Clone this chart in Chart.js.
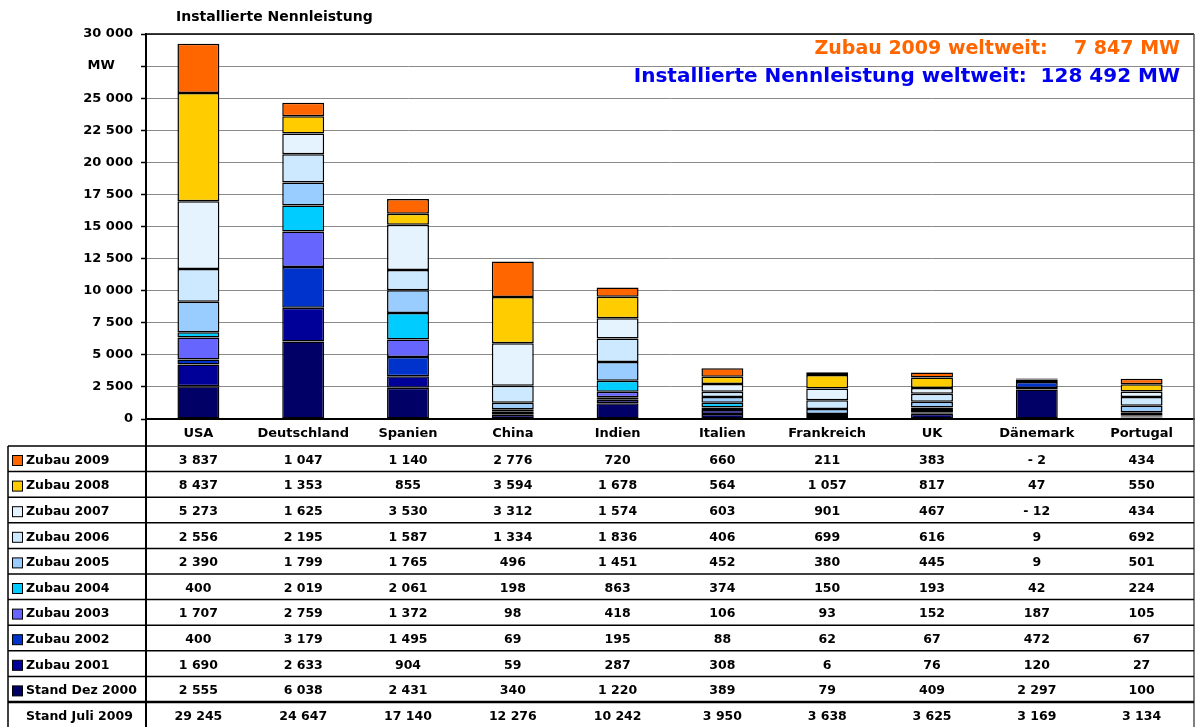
<!DOCTYPE html>
<html>
<head>
<meta charset="utf-8">
<script src="https://cdn.jsdelivr.net/npm/chart.js@4.4.1/dist/chart.umd.min.js"></script>
<style>
  html, body { margin: 0; padding: 0; background: #fff; }
  #wrap { width: 1196px; height: 727px; position: relative; }
</style>
</head>
<body>
<div id="wrap"><canvas id="c" width="1196" height="727"></canvas></div>
<script>
const categories = ['USA','Deutschland','Spanien','China','Indien','Italien','Frankreich','UK','Dänemark','Portugal'];
const zubau2009 = [3837,1047,1140,2776,720,660,211,383,-2,434];
const zubau2008 = [8437,1353,855,3594,1678,564,1057,817,47,550];
const zubau2007 = [5273,1625,3530,3312,1574,603,901,467,-12,434];
const zubau2006 = [2556,2195,1587,1334,1836,406,699,616,9,692];
const zubau2005 = [2390,1799,1765,496,1451,452,380,445,9,501];
const zubau2004 = [400,2019,2061,198,863,374,150,193,42,224];
const zubau2003 = [1707,2759,1372,98,418,106,93,152,187,105];
const zubau2002 = [400,3179,1495,69,195,88,62,67,472,67];
const zubau2001 = [1690,2633,904,59,287,308,6,76,120,27];
const standDez2000 = [2555,6038,2431,340,1220,389,79,409,2297,100];
const standJuli2009 = [29245,24647,17140,12276,10242,3950,3638,3625,3169,3134];

// bottom-to-top stacking order
const seriesNames = ['Stand Dez 2000','Zubau 2001','Zubau 2002','Zubau 2003','Zubau 2004','Zubau 2005','Zubau 2006','Zubau 2007','Zubau 2008','Zubau 2009'];
const seriesValues = [standDez2000,zubau2001,zubau2002,zubau2003,zubau2004,zubau2005,zubau2006,zubau2007,zubau2008,zubau2009];
const seriesColors = ['#000066','#000099','#0033CC','#6666FF','#00CCFF','#99CCFF','#CCE9FF','#E5F3FF','#FFCC00','#FF6600'];

const yTicks = [0,2500,5000,7500,10000,12500,15000,17500,20000,22500,25000,27500,30000];
const unitTick = 27500;
const chartTitle = 'Installierte Nennleistung';
const note1 = 'Zubau 2009 weltweit:    7 847 MW';
const note2 = 'Installierte Nennleistung weltweit:  128 492 MW';
const totalLabel = 'Stand Juli 2009';

function fmt(v) {
  const s = Math.abs(v).toString().replace(/\B(?=(\d{3})+(?!\d))/g, ' ');
  return v < 0 ? '- ' + s : s;
}

const FONT = "'DejaVu Sans', sans-serif";
Chart.defaults.font.family = FONT;
Chart.defaults.color = '#000';

const TABLE_TOP = 446;
const ROW_H = 25.6;
const TABLE_LEFT = 8;
const RIGHT_EDGE = 1194;

const tablePlugin = {
  id: 'tablePlugin',
  afterDraw(chart) {
    const ctx = chart.ctx;
    const xs = chart.scales.x;
    const area = chart.chartArea;
    ctx.save();
    // title
    ctx.fillStyle = '#000';
    ctx.font = 'bold 14px ' + FONT;
    ctx.textAlign = 'left';
    ctx.textBaseline = 'middle';
    ctx.fillText(chartTitle, 176, 17);
    // notes
    ctx.textAlign = 'right';
    ctx.font = 'bold 19px ' + FONT;
    ctx.fillStyle = '#FF6600';
    ctx.fillText(note1, 1180, 49);
    ctx.font = 'bold 20px ' + FONT;
    ctx.fillStyle = '#0000EE';
    ctx.fillText(note2, 1180, 77);

    // top border & right border
    ctx.strokeStyle = '#000';
    ctx.lineWidth = 1.5;
    ctx.beginPath();
    ctx.moveTo(area.left, area.top);
    ctx.lineTo(RIGHT_EDGE, area.top);
    ctx.stroke();
    ctx.strokeStyle = '#555';
    ctx.beginPath();
    ctx.moveTo(RIGHT_EDGE, area.top);
    ctx.lineTo(RIGHT_EDGE, 727);
    ctx.stroke();

    // table rows (top row = Zubau 2009)
    const rows = [];
    for (let i = seriesNames.length - 1; i >= 0; i--) rows.push({name: seriesNames[i], vals: seriesValues[i], color: seriesColors[i]});
    rows.push({name: totalLabel, vals: standJuli2009, color: null});

    ctx.strokeStyle = '#000';
    for (let r = 0; r < rows.length; r++) {
      const y0 = TABLE_TOP + r * ROW_H;
      ctx.lineWidth = (r === rows.length - 1) ? 2.5 : 1.5;
      ctx.beginPath();
      ctx.moveTo(TABLE_LEFT, y0);
      ctx.lineTo(RIGHT_EDGE, y0);
      ctx.stroke();
    }
    // left border and axis line down
    ctx.lineWidth = 1.5;
    ctx.beginPath();
    ctx.moveTo(TABLE_LEFT, TABLE_TOP);
    ctx.lineTo(TABLE_LEFT, 727);
    ctx.stroke();
    ctx.lineWidth = 2;
    ctx.beginPath();
    ctx.moveTo(area.left, area.bottom);
    ctx.lineTo(area.left, 727);
    ctx.stroke();

    ctx.textBaseline = 'middle';
    ctx.font = 'bold 12.5px ' + FONT;
    for (let r = 0; r < rows.length; r++) {
      const yc = TABLE_TOP + r * ROW_H + 14.5;
      const row = rows[r];
      if (row.color) {
        ctx.fillStyle = row.color;
        ctx.fillRect(12.5, yc - 5, 10, 10);
        ctx.lineWidth = 1;
        ctx.strokeStyle = '#000';
        ctx.strokeRect(12.5, yc - 5, 10, 10);
      }
      ctx.fillStyle = '#000';
      ctx.textAlign = 'left';
      ctx.fillText(row.name, 26, yc);
      ctx.textAlign = 'center';
      for (let c = 0; c < categories.length; c++) {
        ctx.fillText(fmt(row.vals[c]), xs.getPixelForValue(c), yc);
      }
    }
    ctx.restore();
  }
};

new Chart(document.getElementById('c'), {
  type: 'bar',
  data: {
    labels: categories,
    datasets: seriesNames.map((n, i) => ({
      label: n,
      data: seriesValues[i],
      backgroundColor: seriesColors[i],
      borderColor: '#000',
      borderWidth: 1.5,
      borderSkipped: false,
      categoryPercentage: 1,
      barPercentage: 0.4
    }))
  },
  options: {
    responsive: false,
    animation: false,
    layout: { padding: { top: 34, right: 2, bottom: 727 - TABLE_TOP, left: 0 } },
    plugins: { legend: { display: false }, tooltip: { enabled: false } },
    scales: {
      x: {
        stacked: true,
        grid: { display: false, drawTicks: false },
        border: { color: '#000', width: 2 },
        ticks: { font: { size: 13, weight: 'bold' }, padding: 7, color: '#000', maxRotation: 0 },
        afterFit(s) { s.height = TABLE_TOP - 419; }
      },
      y: {
        stacked: true,
        min: 0,
        max: 30000,
        afterBuildTicks(s) { s.ticks = yTicks.map(v => ({value: v})); },
        grid: { color: '#8a8a8a', lineWidth: 1, tickLength: 5, tickColor: '#000', tickWidth: 1.5 },
        border: { color: '#000', width: 2 },
        ticks: {
          font: { size: 13, weight: 'bold' },
          padding: 8,
          color: '#000',
          callback: (v) => v === unitTick ? 'MW    ' : fmt(v)
        },
        afterFit(s) { s.width = 146; }
      }
    }
  },
  plugins: [tablePlugin]
});
</script>
</body>
</html>
